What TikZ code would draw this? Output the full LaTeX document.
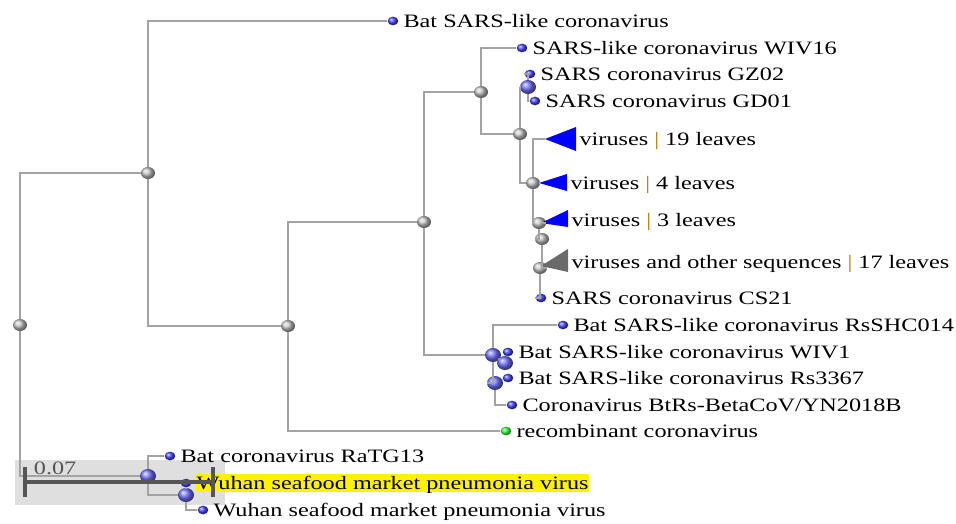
\documentclass[tikz,border=0pt]{standalone}
\usepackage{fontspec}
\newfontfamily\lblfont[FakeStretch=1.28]{Liberation Serif}
\usetikzlibrary{shapes.geometric,positioning}
\definecolor{brgray}{HTML}{A3A3A3}
\definecolor{bardark}{HTML}{555555}
\definecolor{clgray}{HTML}{6A6A6A}
\definecolor{sepcol}{HTML}{C07800}
\tikzstyle{branch} = [draw=brgray, line width=1.5pt]
\tikzstyle{inode} = [ellipse, inner sep=0pt, minimum width=10.5pt, minimum height=9pt, ball color=gray!45]
\tikzstyle{bnode} = [ellipse, inner sep=0pt, minimum width=12pt, minimum height=10.5pt, ball color=blue!55]
\tikzstyle{leafdot} = [ellipse, inner sep=0pt, minimum width=8pt, minimum height=6.5pt, ball color=blue!75]
\tikzstyle{lbl} = [font=\lblfont\fontsize{14.2}{16}\selectfont, inner sep=0.5pt, text height=11pt, text depth=1pt]
\tikzstyle{scalebar} = [draw=bardark, line width=3pt]

\begin{document}
\begin{tikzpicture}[x=0.75pt,y=-0.75pt,node distance=3pt]

         \useasboundingbox (0,0) rectangle (956,524);

         % box behind the scale bar
         \fill[gray!25] (15,460) rectangle (225,505);

         % inner nodes of the tree
         \node (root) [inode] at (20,325) {};
         \node (nA) [inode] at (148,173) {};
         \node (nB) [inode] at (288,326) {};
         \node (nC) [inode] at (424,222) {};
         \node (nD) [inode] at (481,92) {};
         \node (nF) [inode] at (520,134) {};
         \node (nH) [inode] at (533,183) {};
         \node (nK) [inode] at (539,223) {};
         \node (nI) [inode] at (542,239) {};
         \node (nJ) [inode] at (540,268) {};
         \node (nG) [bnode] at (528,87) {};
         \node (nE) [bnode] at (493,355) {};
         \node (nL) [bnode] at (505,363) {};
         \node (nM) [bnode] at (495,383) {};
         \node (nN) [bnode] at (148,476) {};
         \node (nO) [bnode] at (186,495) {};

         % leaves
         \node (lBat) [leafdot] at (393,21) {};
         \node (lWIV16) [leafdot] at (522,48) {};
         \node (lGZ02) [leafdot] at (530,74) {};
         \node (lGD01) [leafdot] at (535,101) {};
         \node (lCS21) [leafdot] at (541,298) {};
         \node (lSHC) [leafdot] at (563,325) {};
         \node (lWIV1) [leafdot] at (508,352) {};
         \node (lRs) [leafdot] at (508,378) {};
         \node (lYN) [leafdot] at (512,405) {};
         \node (lRec) [leafdot, ball color=green!80] at (506,431) {};
         \node (lRaTG) [leafdot] at (170,456) {};
         \node (lWuhanA) [leafdot] at (186,483) {};
         \node (lWuhanB) [leafdot] at (203,510) {};

         % collapsed clades
         \coordinate (t19) at (545,139);
         \coordinate (t4) at (539,183);
         \coordinate (t3) at (541,223);
         \coordinate (t17) at (541,266);
         \fill[blue] (t19) -- ++(31,-12) -- ++(0,24) -- cycle;
         \fill[blue] (t4) -- ++(28,-9) -- ++(0,17) -- cycle;
         \fill[blue] (t3) -- ++(27,-13) -- ++(0,17) -- cycle;
         \fill[clgray] (t17) -- ++(27,-17) -- ++(0,23) -- cycle;
         \coordinate (b19) at (576,139);
         \coordinate (b4) at (567,183);
         \coordinate (b3) at (568,220);
         \coordinate (b17) at (568,262);

         % branches
         \path [branch] (root) |- (nA);
         \path [branch] (root) |- (nN);
         \path [branch] (nA) |- (lBat);
         \path [branch] (nA) |- (nB);
         \path [branch] (nB) |- (nC);
         \path [branch] (nB) |- (lRec);
         \path [branch] (nC) |- (nD);
         \path [branch] (nC) |- (nE);
         \path [branch] (nD) |- (lWIV16);
         \path [branch] (nD) |- (nF);
         \path [branch] (nF) |- (nG);
         \path [branch] (nF) |- (nH);
         \path [branch] (nG) |- (lGZ02);
         \path [branch] (nG) |- (lGD01);
         \path [branch] (nH) |- (t19);
         \path [branch] (nH) -- (t4);
         \path [branch] (nH) |- (nK);
         \path [branch] (nK) -- (t3);
         \path [branch] (nK) |- (nI);
         \path [branch] (nI) |- (nJ);
         \path [branch] (nJ) -- (t17);
         \path [branch] (nJ) |- (lCS21);
         \path [branch] (nE) |- (lSHC);
         \path [branch] (nE) -- (nL);
         \path [branch] (nE) |- (nM);
         \path [branch] (nL) -- (lWIV1);
         \path [branch] (nM) -- (lRs);
         \path [branch] (nM) |- (lYN);
         \path [branch] (nN) |- (lRaTG);
         \path [branch] (nN) |- (nO);
         \path [branch] (nO) -- (lWuhanA);
         \path [branch] (nO) |- (lWuhanB);

         % labels
         \node (tBat) [lbl, right=of lBat] {Bat SARS-like coronavirus};
         \node (tWIV16) [lbl, right=of lWIV16] {SARS-like coronavirus WIV16};
         \node (tGZ02) [lbl, right=of lGZ02] {SARS coronavirus GZ02};
         \node (tGD01) [lbl, right=of lGD01] {SARS coronavirus GD01};
         \node (t19lbl) [lbl, right=2pt of b19] {viruses \textcolor{sepcol}{|} 19 leaves};
         \node (t4lbl) [lbl, right=2pt of b4] {viruses \textcolor{sepcol}{|} 4 leaves};
         \node (t3lbl) [lbl, right=2pt of b3] {viruses \textcolor{sepcol}{|} 3 leaves};
         \node (t17lbl) [lbl, right=2pt of b17] {viruses and other sequences \textcolor{sepcol}{|} 17 leaves};
         \node (tCS21) [lbl, right=of lCS21] {SARS coronavirus CS21};
         \node (tSHC) [lbl, right=of lSHC] {Bat SARS-like coronavirus RsSHC014};
         \node (tWIV1) [lbl, right=of lWIV1] {Bat SARS-like coronavirus WIV1};
         \node (tRs) [lbl, right=of lRs] {Bat SARS-like coronavirus Rs3367};
         \node (tYN) [lbl, right=of lYN] {Coronavirus BtRs-BetaCoV/YN2018B};
         \node (tRec) [lbl, right=of lRec] {recombinant coronavirus};
         \node (tRaTG) [lbl, right=of lRaTG] {Bat coronavirus RaTG13};
         \node (tWuhanA) [lbl, right=of lWuhanA, fill=yellow] {Wuhan seafood market pneumonia virus};
         \node (tWuhanB) [lbl, right=of lWuhanB] {Wuhan seafood market pneumonia virus};

         % scale bar
         \coordinate (barL) at (25,482);
         \coordinate (barR) at (213,482);
         \path [scalebar] (barL) -- (barR);
         \path [scalebar] (barL) ++(0,-15) -- ++(0,30);
         \path [scalebar] (barR) ++(0,-15) -- ++(0,30);
         \node (scaleLbl) [lbl, text=bardark, anchor=west] at (33,468) {0.07};

     \end{tikzpicture}
\end{document}
